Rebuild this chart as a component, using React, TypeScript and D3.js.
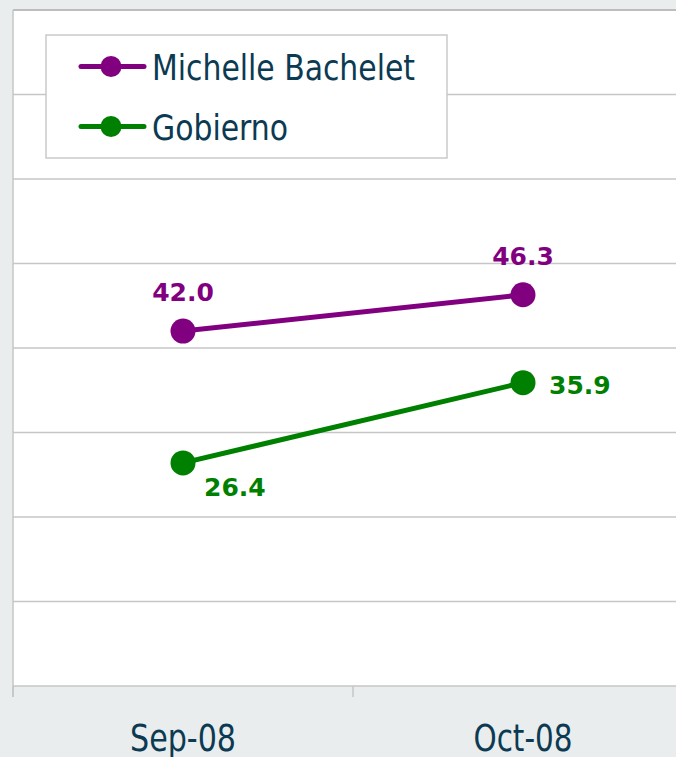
import React from "react";
import * as d3 from "d3";

const categories = ["Sep-08", "Oct-08"];
const seriesNames = ["Michelle Bachelet", "Gobierno"];
const bacheletValues = [42.0, 46.3];
const gobiernoValues = [26.4, 35.9];
const yTicks = [0, 10, 20, 30, 40, 50, 60, 70, 80];

const W = 676;
const H = 757;
const BG = "#e9edee";
const GRID = "#c6c6c6";
const TEXT = "#0c3a52";
const PURPLE = "#800080";
const GREEN = "#008000";

export default function App() {
  const plotLeft = 13;
  const plotRight = 693;
  const plotTop = 10;
  const plotBottom = 686;

  const x = d3.scalePoint<string>().domain(categories).range([plotLeft, plotRight]).padding(0.5);
  const band = d3.scaleBand<string>().domain(categories).range([plotLeft, plotRight]).padding(0);
  const y = d3.scaleLinear().domain([0, 80]).range([plotBottom, plotTop]);

  const line = d3
    .line<number>()
    .x((_, i) => x(categories[i]) as number)
    .y((d) => y(d));

  const series = [
    { name: seriesNames[0], values: bacheletValues, color: PURPLE, label: "above" },
    { name: seriesNames[1], values: gobiernoValues, color: GREEN, label: "right" },
  ];

  const tickXs = categories.map((c) => band(c) as number);

  const labelPos = (kind: string, i: number) => {
    if (kind === "above") return { dx: 0, dy: -30, anchor: "middle" };
    if (i === 0) return { dx: 21, dy: 33, anchor: "start" };
    return { dx: 26, dy: 11, anchor: "start" };
  };

  const legendTextLen = [263, 136];
  const axisTextLen = [106, 99];

  return (
    <svg
      width={W}
      height={H}
      style={{ position: "absolute", left: 0, top: 0, display: "block" }}
      xmlns="http://www.w3.org/2000/svg"
    >
      <rect x={0} y={0} width={W} height={H} fill={BG} />
      <rect x={plotLeft} y={plotTop} width={plotRight - plotLeft} height={plotBottom - plotTop} fill="#ffffff" />
      {yTicks.map((t) => (
        <line
          key={t}
          x1={plotLeft}
          x2={plotRight}
          y1={y(t)}
          y2={y(t)}
          stroke={t === 80 ? "#bdbdbd" : GRID}
          strokeWidth={t === 80 ? 2.2 : 1.4}
        />
      ))}
      <line x1={plotLeft} x2={plotLeft} y1={plotTop} y2={plotBottom + 11} stroke={GRID} strokeWidth={1.5} />
      {tickXs.map((tx, i) => (
        <line key={i} x1={tx} x2={tx} y1={plotBottom} y2={plotBottom + 11} stroke={GRID} strokeWidth={1.5} />
      ))}
      {categories.map((c, i) => (
        <text
          key={c}
          x={x(c) as number}
          y={751}
          textAnchor="middle"
          fontFamily="'DejaVu Sans Condensed', 'DejaVu Sans', sans-serif"
          fontSize={37}
          fill={TEXT}
          textLength={axisTextLen[i]}
          lengthAdjust="spacingAndGlyphs"
        >
          {c}
        </text>
      ))}
      {series.map((s) => (
        <g key={s.name}>
          <path d={line(s.values) || ""} fill="none" stroke={s.color} strokeWidth={5} />
          {s.values.map((v, i) => (
            <circle key={i} cx={x(categories[i]) as number} cy={y(v)} r={12.5} fill={s.color} />
          ))}
          {s.values.map((v, i) => {
            const p = labelPos(s.label, i);
            return (
              <text
                key={"l" + i}
                x={(x(categories[i]) as number) + p.dx}
                y={y(v) + p.dy}
                textAnchor={p.anchor as any}
                fontFamily="'DejaVu Sans', sans-serif"
                fontWeight="bold"
                fontSize={25}
                fill={s.color}
              >
                {v.toFixed(1)}
              </text>
            );
          })}
        </g>
      ))}
      <rect x={46} y={35} width={401} height={123} fill="#ffffff" stroke={GRID} strokeWidth={1.4} />
      {series.map((s, i) => {
        const ly = 66.5 + i * 60;
        return (
          <g key={"leg" + s.name}>
            <line x1={81} x2={144} y1={ly} y2={ly} stroke={s.color} strokeWidth={5} strokeLinecap="round" />
            <circle cx={111} cy={ly} r={10.5} fill={s.color} />
            <text
              x={152}
              y={ly + 13}
              fontFamily="'DejaVu Sans Condensed', 'DejaVu Sans', sans-serif"
              fontSize={36}
              fill={TEXT}
              textLength={legendTextLen[i]}
              lengthAdjust="spacingAndGlyphs"
            >
              {s.name}
            </text>
          </g>
        );
      })}
    </svg>
  );
}
